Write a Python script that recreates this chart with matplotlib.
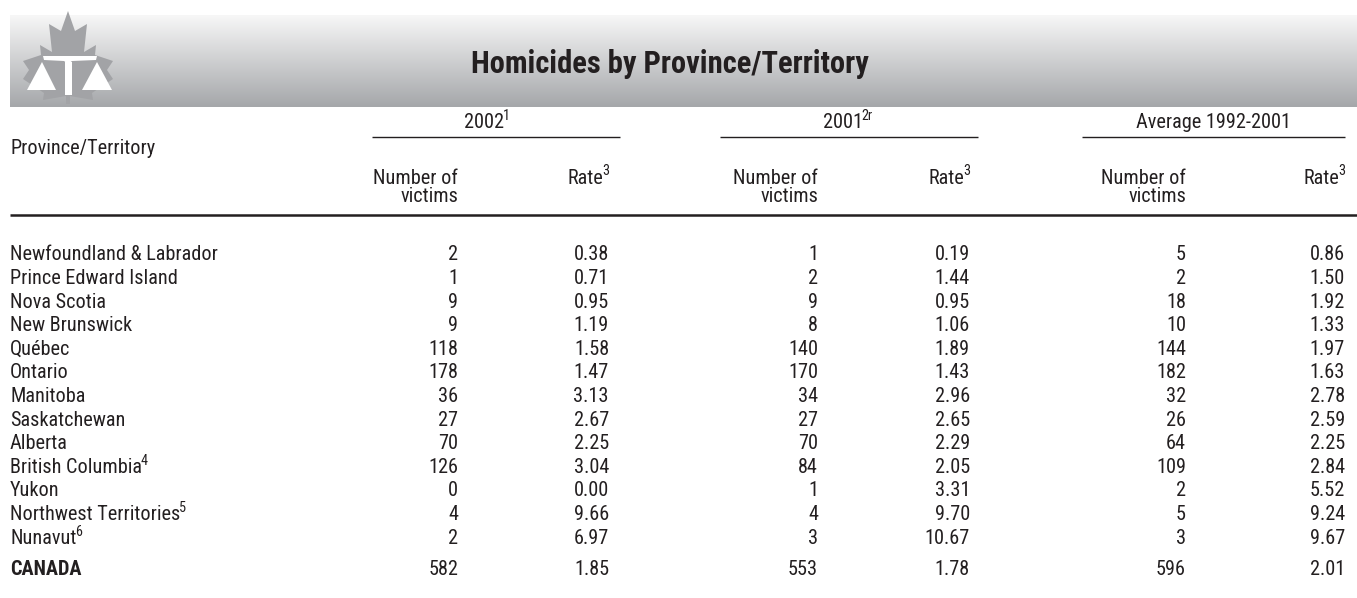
import numpy as np
import matplotlib
matplotlib.use("Agg")
import matplotlib.pyplot as plt
from matplotlib import font_manager as fm
from matplotlib.colors import LinearSegmentedColormap
from matplotlib.patches import Polygon

# table data
provinces = ['Newfoundland & Labrador', 'Prince Edward Island', 'Nova Scotia',
             'New Brunswick', 'Québec', 'Ontario', 'Manitoba', 'Saskatchewan',
             'Alberta', 'British Columbia', 'Yukon',
             'Northwest Territories', 'Nunavut']
province_notes = ['', '', '', '', '', '', '', '', '', '4', '', '5', '6']
victims_2002 = [2, 1, 9, 9, 118, 178, 36, 27, 70, 126, 0, 4, 2]
rate_2002 = [0.38, 0.71, 0.95, 1.19, 1.58, 1.47, 3.13, 2.67, 2.25, 3.04, 0.00, 9.66, 6.97]
victims_2001 = [1, 2, 9, 8, 140, 170, 34, 27, 70, 84, 1, 4, 3]
rate_2001 = [0.19, 1.44, 0.95, 1.06, 1.89, 1.43, 2.96, 2.65, 2.29, 2.05, 3.31, 9.70, 10.67]
victims_avg = [5, 2, 18, 10, 144, 182, 32, 26, 64, 109, 2, 5, 3]
rate_avg = [0.86, 1.50, 1.92, 1.33, 1.97, 1.63, 2.78, 2.59, 2.25, 2.84, 5.52, 9.24, 9.67]
canada_victims = [582, 553, 596]
canada_rates = [1.85, 1.78, 2.01]
groups = ['2002', '2001', 'Average 1992-2001']
group_notes = ['1', '2r', '']

# pick a narrow font if one is installed
names = {f.name for f in fm.fontManager.ttflist}
FONT = {'family': 'Liberation Sans'}
for cand in ['Liberation Sans Narrow', 'Roboto Condensed', 'Open Sans Condensed',
             'Noto Sans Condensed', 'DejaVu Sans Condensed']:
    if cand in names:
        FONT = {'family': cand}
        break
else:
    for f in fm.fontManager.ttflist:
        if f.name in ('DejaVu Sans', 'Noto Sans', 'Open Sans') and str(f.stretch) in ('condensed', 'semi-condensed'):
            FONT = {'family': f.name, 'stretch': str(f.stretch)}
            break

W, H = 1357, 598
fig = plt.figure(figsize=(W / 100, H / 100), dpi=100)
ax = fig.add_axes([0, 0, 1, 1])
ax.set_xlim(0, W)
ax.set_ylim(H, 0)
ax.axis('off')
renderer = fig.canvas.get_renderer()

ink = '#231f20'
fs = 14.6


def put(x, y, s, ha='left', size=fs, weight='normal', sup=''):
    # y is the vertical centre of the line; sup is a superscript note
    kw = dict(fontsize=size, fontweight=weight, color=ink, va='center', **FONT)
    if not sup:
        ax.text(x, y, s, ha=ha, **kw)
        return
    base = ax.text(0, y, s, ha='left', **kw)
    small = dict(kw, fontsize=size * 0.7)
    note = ax.text(0, y - size * 0.45, sup, ha='left', **small)
    wb = base.get_window_extent(renderer).width
    wn = note.get_window_extent(renderer).width
    total = wb + wn - 1
    if ha == 'left':
        x0 = x
    elif ha == 'right':
        x0 = x - total
    else:
        x0 = x - total / 2
    base.set_x(x0)
    note.set_x(x0 + wb - 1)


# grey header band with gradient
cmap = LinearSegmentedColormap.from_list('band', ['#f7f7f7', '#a5a7aa'])
ax.imshow(np.linspace(0, 1, 200).reshape(-1, 1), extent=[10, W, 107, 15],
          cmap=cmap, aspect='auto', zorder=0)

# logo: maple leaf with scales
leaf = [(68, 11), (61, 31), (49, 24), (52, 52), (40, 45), (41, 55), (23, 61),
        (29, 70), (23, 79), (44, 93), (43, 100), (66, 96), (66, 104), (70, 104),
        (70, 96), (93, 100), (92, 93), (113, 79), (107, 70), (113, 61), (95, 55),
        (96, 45), (84, 52), (87, 24), (75, 31)]
ax.add_patch(Polygon(leaf, closed=True, fc='#a2a3a6', ec='none', zorder=1))
ax.add_patch(Polygon([(43, 56), (97, 56), (96, 60), (72, 61), (68, 64), (64, 61), (44, 60)],
                     closed=True, fc='white', ec='none', zorder=2))
ax.add_patch(Polygon([(27, 90), (56, 90), (42, 62)], closed=True, fc='white', ec='none', zorder=2))
ax.add_patch(Polygon([(82, 90), (112, 90), (97, 62)], closed=True, fc='white', ec='none', zorder=2))
ax.add_patch(Polygon([(65, 62), (72, 62), (72, 95), (65, 95)], closed=True, fc='white', ec='none', zorder=2))

put(670, 64, 'Homicides by Province/Territory', ha='center', size=22, weight='bold')

# column layout
num_x = [458, 818, 1186]
rate_x = [609, 970, 1345]
line_x = [(372, 620), (720, 978), (1082, 1345)]
grp_x = [487, 848, 1213]

put(10, 149, 'Province/Territory')
for g, gn, gx, (l0, l1), nx, rx in zip(groups, group_notes, grp_x, line_x, num_x, rate_x):
    put(gx, 123, g, ha='center', sup=gn)
    ax.plot([l0, l1], [137, 137], color=ink, lw=1.0, solid_capstyle='butt')
    put(nx, 178, 'Number of', ha='right')
    put(nx, 196, 'victims', ha='right')
    put(rx, 178, 'Rate', ha='right', sup='3')

ax.plot([10, W], [215, 215], color=ink, lw=1.8, solid_capstyle='butt')

cols = [(victims_2002, rate_2002), (victims_2001, rate_2001), (victims_avg, rate_avg)]
y0, dy = 255, 23.6
for i, name in enumerate(provinces):
    y = y0 + i * dy
    put(10, y, name, sup=province_notes[i])
    for (nums, rates), nx, rx in zip(cols, num_x, rate_x):
        put(nx, y, f'{nums[i]}', ha='right')
        put(rx, y, f'{rates[i]:.2f}', ha='right')

yc = y0 + (len(provinces) - 1) * dy + 31
put(10, yc, 'CANADA', weight='bold')
for v, r, nx, rx in zip(canada_victims, canada_rates, num_x, rate_x):
    put(nx, yc, f'{v}', ha='right')
    put(rx, yc, f'{r:.2f}', ha='right')

fig.savefig('out.png', dpi=100)
